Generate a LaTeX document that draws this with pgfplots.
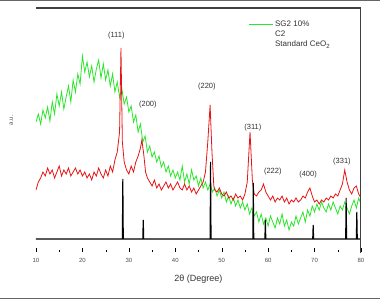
\documentclass[border=0pt]{standalone}
\usepackage{fontspec}
\setmainfont{Liberation Sans}
\usepackage{pgfplots}
\pgfplotsset{compat=1.18}
\definecolor{cg}{RGB}{40,230,40}
\definecolor{cr}{RGB}{230,20,20}
\begin{document}
\begin{tikzpicture}
\begin{axis}[
  scale only axis, width=325pt, height=244pt,
  xmin=10, xmax=80, ymin=0, ymax=244,
  ytick=\empty,
  xtick={10,20,...,80}, minor x tick num=1,
  axis line style={draw=none},
  tick style={black}, major tick length=4pt, minor tick length=2.5pt,
  tick align=inside, xtick pos=bottom,
  tick label style={font=\fontsize{6}{7}\selectfont, text=black!70},
  xticklabel style={yshift=-3pt},
  /pgf/number format/assume math mode=true,
  xlabel={2θ (Degree)},
  xlabel style={font=\fontsize{9}{10}\selectfont, text=black!80, yshift=-5pt},
  ylabel={a.u.},
  ylabel style={font=\fontsize{6}{7}\selectfont, text=black!70, at={(axis description cs:-0.06,0.54)}},
  legend style={at={(0.643,0.965)}, anchor=north west, draw=none, fill=none,
    font=\fontsize{8}{9}\selectfont, text=black!80, row sep=-1pt},
  legend cell align=left,
  legend image code/.code={\draw[#1] (0cm,0cm) -- (0.85cm,0cm);},
]
\addplot[cg, line width=0.8pt] coordinates {
(10.0,130)(10.5,138)(11.0,128)(11.5,142)(12.0,134)(12.5,145)(13.0,131)(13.5,150)(14.0,138)(14.5,158)
(15.0,146)(15.5,160)(16.0,143)(16.5,155)(17.0,166)(17.5,150)(18.0,172)(18.5,160)(19.0,178)(19.5,168)
(20.0,196)(20.5,180)(21.0,190)(21.5,175)(22.0,186)(22.5,170)(23.0,183)(23.5,192)(24.0,174)(24.5,188)
(25.0,172)(25.5,182)(26.0,166)(26.5,178)(27.0,160)(27.5,170)(28.0,155)(28.5,163)(29.0,148)(29.5,155)
(30.0,140)(30.5,146)(31.0,130)(31.5,137)(32.0,120)(32.5,128)(33.0,110)(33.5,116)(34.0,100)(34.5,106)
(35.0,95)(35.5,100)(36.0,90)(36.5,96)(37.0,85)(37.5,90)(38.0,80)(38.5,86)(39.0,76)(39.5,82)
(40.0,74)(40.5,80)(41.0,72)(41.5,86)(42.0,70)(42.5,78)(43.0,68)(43.5,82)(44.0,72)(44.5,76)
(45.0,66)(45.5,74)(46.0,64)(46.5,70)(47.0,62)(47.5,68)(48.0,60)(48.5,64)(49.0,56)(49.5,62)
(50.0,54)(50.5,60)(51.0,50)(51.5,56)(52.0,48)(52.5,54)(53.0,46)(53.5,52)(54.0,44)(54.5,50)
(55.0,42)(55.5,48)(56.0,38)(56.5,44)(57.0,36)(57.5,40)(58.0,30)(58.5,38)(59.0,28)(59.5,34)
(60.0,26)(60.5,36)(61.0,30)(61.5,24)(62.0,34)(62.5,28)(63.0,38)(63.5,26)(64.0,32)(64.5,22)
(65.0,30)(65.5,26)(66.0,36)(66.5,28)(67.0,34)(67.5,40)(68.0,30)(68.5,42)(69.0,36)(69.5,46)
(70.0,40)(70.5,48)(71.0,42)(71.5,50)(72.0,44)(72.5,40)(73.0,48)(73.5,42)(74.0,50)(74.5,44)
(75.0,38)(75.5,46)(76.0,42)(76.5,50)(77.0,44)(77.5,38)(78.0,46)(78.5,52)(79.0,44)(79.5,54)(80.0,48)
};
\addlegendentry{SG2 10\%}
\addplot[cr, line width=0.8pt, forget plot] coordinates {
(10.0,62)(10.5,70)(11.0,74)(11.5,80)(12.0,76)(12.5,84)(13.0,78)(13.5,82)(14.0,74)(14.5,80)
(15.0,86)(15.5,76)(16.0,82)(16.5,78)(17.0,84)(17.5,76)(18.0,80)(18.5,84)(19.0,78)(19.5,82)
(20.0,76)(20.5,80)(21.0,74)(21.5,78)(22.0,72)(22.5,80)(23.0,76)(23.5,84)(24.0,78)(24.5,74)
(25.0,82)(25.5,76)(26.0,86)(26.5,80)(27.0,92)(27.5,100)(28.0,120)(28.3,204)(28.6,110)(29.0,90)
(29.5,82)(30.0,78)(30.5,86)(31.0,80)(31.5,90)(32.0,96)(32.5,104)(32.8,112)(33.2,98)(33.6,80)
(34.0,74)(34.5,70)(35.0,66)(35.5,72)(36.0,64)(36.5,68)(37.0,62)(37.5,66)(38.0,70)(38.5,64)
(39.0,68)(39.5,62)(40.0,66)(40.5,70)(41.0,64)(41.5,62)(42.0,68)(42.5,62)(43.0,66)(43.5,60)
(44.0,64)(44.5,58)(45.0,62)(45.5,66)(46.0,70)(46.5,80)(47.0,110)(47.5,147)(47.9,100)(48.3,66)
(48.5,62)(49.0,60)(49.5,64)(50.0,58)(50.5,56)(51.0,60)(51.5,54)(52.0,56)(52.5,52)(53.0,58)
(53.5,54)(54.0,56)(54.5,52)(55.0,58)(55.5,70)(56.1,120)(56.6,72)(57.0,58)(57.5,56)(58.0,60)
(58.5,62)(59.0,68)(59.5,60)(60.0,56)(60.5,52)(61.0,56)(61.5,50)(62.0,54)(62.5,52)(63.0,56)
(63.5,50)(64.0,54)(64.5,48)(65.0,52)(65.5,50)(66.0,54)(66.5,50)(67.0,52)(67.5,56)(68.0,54)
(68.5,60)(69.0,64)(69.5,56)(70.0,50)(70.5,52)(71.0,48)(71.5,52)(72.0,50)(72.5,54)(73.0,52)
(73.5,56)(74.0,54)(74.5,58)(75.0,56)(75.5,62)(76.0,68)(76.5,82)(77.0,70)(77.5,62)(78.0,58)
(78.5,64)(79.0,66)(79.5,58)(80.0,54)
};
\addlegendimage{white}
\addlegendentry{C2}
\addplot[black, line width=1.1pt, forget plot] coordinates {
(10,13)(28.6,13)(28.7,73)(28.8,13)(33.0,13)(33.1,32)(33.2,13)(47.5,13)(47.6,90)(47.7,13)
(56.7,13)(56.8,69)(56.9,13)(59.3,13)(59.4,32)(59.5,13)(69.6,13)(69.7,27)(69.8,13)
(76.7,13)(76.8,54)(76.9,13)(79.0,13)(79.1,40)(79.2,13)(80,13)
};
\addlegendimage{white}
\addlegendentry{Standard CeO\textsubscript{2}}
\begin{scope}[every node/.style={font=\fontsize{7.5}{8}\selectfont, text=black!80}]
\node at (axis cs:27.3,216) {(111)};
\node at (axis cs:34.1,147) {(200)};
\node at (axis cs:46.8,165) {(220)};
\node at (axis cs:56.7,124) {(311)};
\node at (axis cs:61.0,80) {(222)};
\node at (axis cs:68.6,77) {(400)};
\node at (axis cs:75.9,90) {(331)};
\end{scope}
\draw[black!75, line width=1.4pt] (rel axis cs:0,1) -- (rel axis cs:1,1) -- (rel axis cs:1,-0.012);
\end{axis}
\pgfresetboundingbox
\path[use as bounding box] (-36pt,-48pt) rectangle (344pt,252pt);
\draw[black!60, line width=1pt] (-36pt,251.5pt) -- (344pt,251.5pt);
\draw[black!60, line width=1pt] (-36pt,-46pt) -- (344pt,-46pt);
\end{tikzpicture}
\end{document}
